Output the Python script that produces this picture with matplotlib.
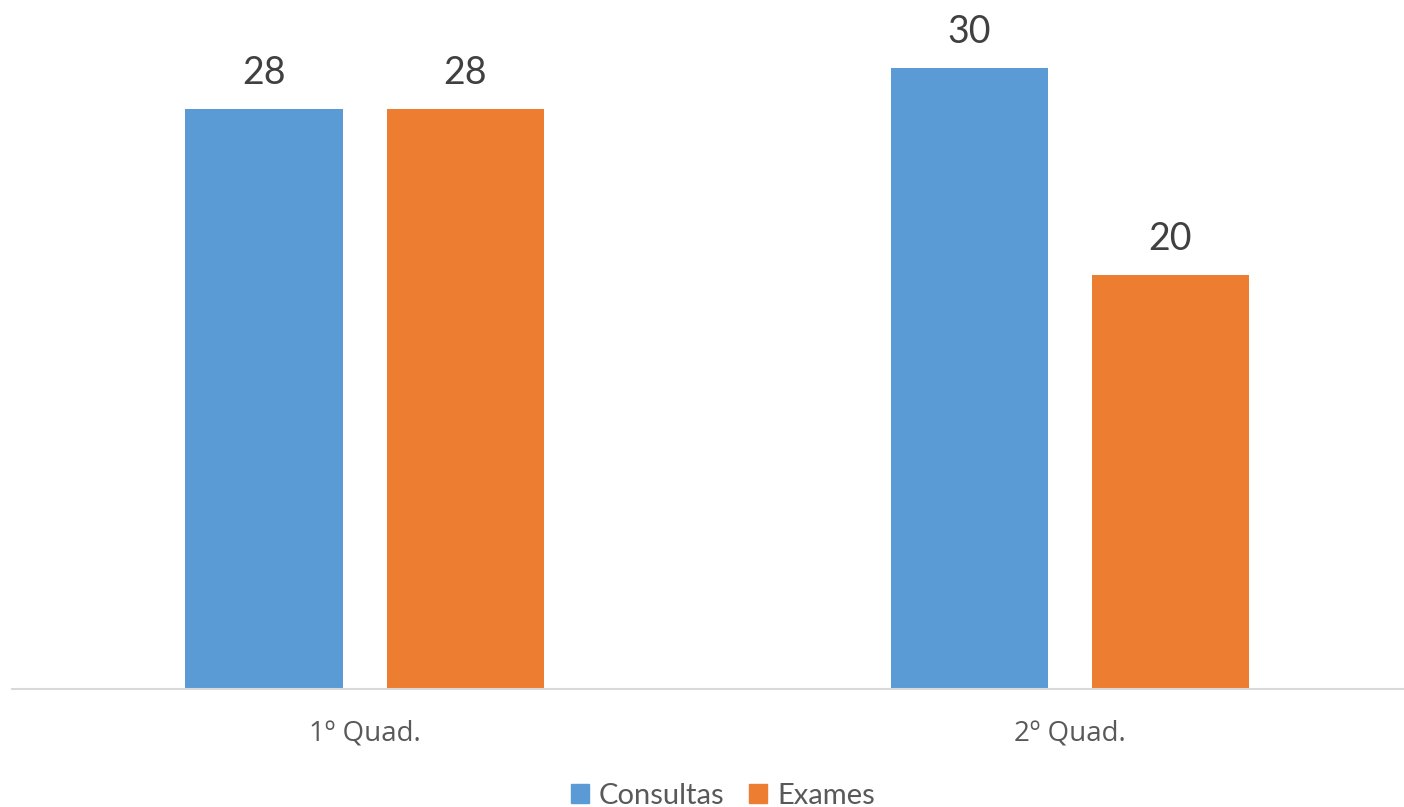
import matplotlib
matplotlib.use("Agg")
import matplotlib.pyplot as plt
import numpy as np
from matplotlib.patches import Patch

categories = ["1º Quad.", "2º Quad."]
series_names = ["Consultas", "Exames"]
consultas = [28, 30]
exames = [28, 20]

colors = ["#5B9BD5", "#ED7D31"]

plt.rcParams['font.family'] = ['Lato', 'DejaVu Sans']

W, H = 1404, 807
fig = plt.figure(figsize=(W / 100, H / 100), dpi=100)
ax = fig.add_axes([12 / W, (H - 689) / H, (W - 12) / W, 689 / H])

x = np.arange(len(categories))
bw = 157 / 705
off = (157 + 44) / 2 / 705

for vals, sign, col in [(consultas, -1, colors[0]), (exames, 1, colors[1])]:
    bars = ax.bar(x + sign * off, vals, width=bw, color=col, zorder=2)
    for b, v in zip(bars, vals):
        ax.annotate(str(v), (b.get_x() + b.get_width() / 2, v),
                    xytext=(0, 13), textcoords="offset points",
                    ha="center", va="bottom", fontsize=27, color="#404040")

ax.set_xlim(-0.5, (W - 12) / 705 - 0.5)
ax.set_ylim(0, 689 / 20.71)
ax.set_xticks(x)
ax.set_xticklabels(categories, fontsize=20, color="#595959",
                   family=['Open Sans', 'DejaVu Sans'])
ax.tick_params(axis="x", length=0, pad=22)
ax.set_yticks([])
for s in ["top", "right", "left"]:
    ax.spines[s].set_visible(False)
ax.spines["bottom"].set_color("#D9D9D9")
ax.spines["bottom"].set_linewidth(1.5)

handles = [Patch(color=c, label=n) for c, n in zip(colors, series_names)]
leg = fig.legend(handles=handles, loc="lower center", bbox_to_anchor=(0.515, -0.035),
                 ncol=2, frameon=False, fontsize=21, handlelength=0.6,
                 handleheight=0.6, handletextpad=0.35, columnspacing=0.85)
for t in leg.get_texts():
    t.set_color("#595959")

fig.savefig("out.png", dpi=100)
